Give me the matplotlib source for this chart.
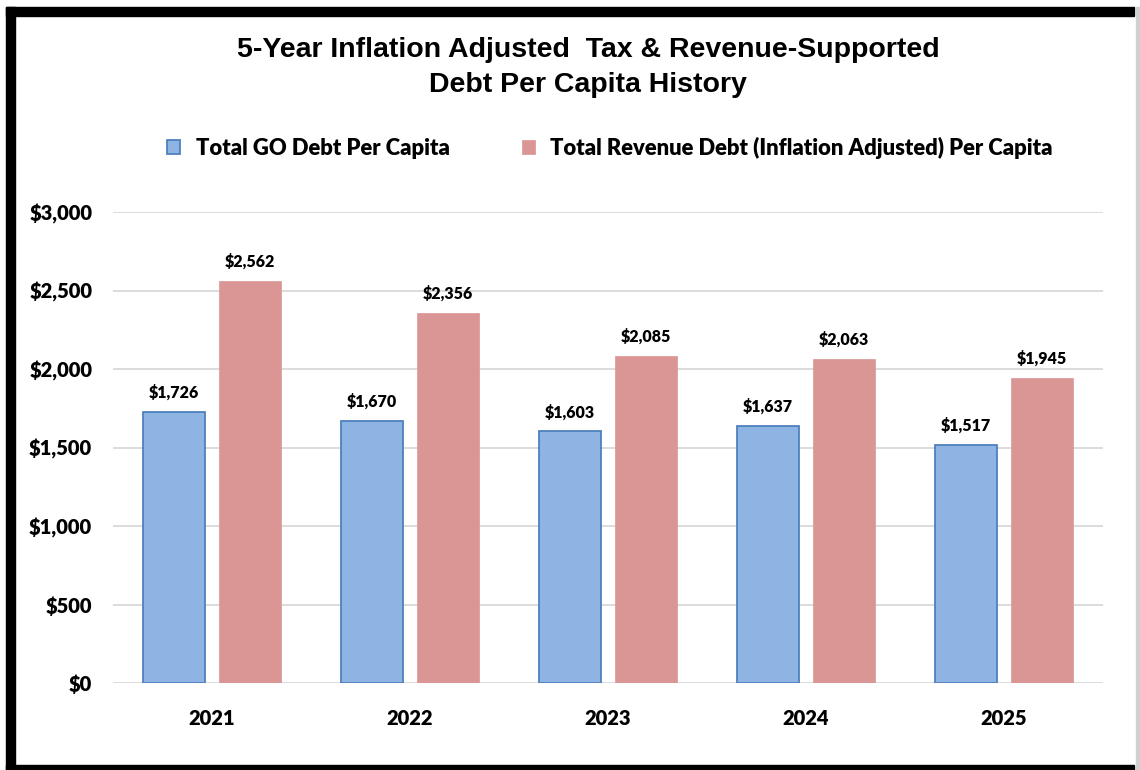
# 5년 인플레이션 조정 부채 1인당 막대 차트

import matplotlib.pyplot as plt
from matplotlib.patches import Rectangle
import numpy as np

years = ["2021", "2022", "2023", "2024", "2025"]
go_debt = [1726, 1670, 1603, 1637, 1517]
rev_debt = [2562, 2356, 2085, 2063, 1945]
y_ticks = [0, 500, 1000, 1500, 2000, 2500, 3000]

label_font = ["Lato", "DejaVu Sans"]
title_font = ["Liberation Sans", "DejaVu Sans"]
lw = "heavy"

W, H = 1140, 770
fig = plt.figure(figsize=(W / 100, H / 100), dpi=100)

# 외곽 테두리 (위/왼쪽/아래 두꺼운 검정, 오른쪽 얇은 회색)
fig.patches.append(Rectangle((6 / W, 1 - 16 / H), (1134 - 6) / W, 9 / H,
                             transform=fig.transFigure, color="black"))
fig.patches.append(Rectangle((6 / W, 0), 9 / W, 1 - 7 / H,
                             transform=fig.transFigure, color="black"))
fig.patches.append(Rectangle((6 / W, 0), (1134 - 6) / W, 5 / H,
                             transform=fig.transFigure, color="black"))
fig.patches.append(Rectangle((1136 / W, 0), 3 / W, 1 - 7 / H,
                             transform=fig.transFigure, color="#d0d0d0"))

ax = fig.add_axes([113 / W, 1 - 683 / H, (1103 - 113) / W, (683 - 212) / H])

x = np.arange(len(years))
bw = 0.313
off = 0.192
blue_bars = ax.bar(x - off, go_debt, bw, color="#8eb4e3", edgecolor="#4f81bd",
                   linewidth=1.3, label="Total GO Debt Per Capita", zorder=3)
red_bars = ax.bar(x + off, rev_debt, bw, color="#d99694", edgecolor="#d99694",
                  linewidth=0.5,
                  label="Total Revenue Debt (Inflation Adjusted) Per Capita",
                  zorder=3)

for bars, vals in [(blue_bars, go_debt), (red_bars, rev_debt)]:
    for b, v in zip(bars, vals):
        ax.annotate(f"${v:,}", (b.get_x() + b.get_width() / 2, v),
                    xytext=(0, 8), textcoords="offset points",
                    ha="center", va="bottom", fontsize=11.5,
                    fontweight=lw, family=label_font)

ax.set_xlim(-0.5, len(years) - 0.5)
ax.set_ylim(0, 3000)
ax.set_yticks(y_ticks)
ax.set_yticklabels([f"${v:,}" for v in y_ticks], fontsize=14.5,
                   fontweight=lw, family=label_font)
ax.set_xticks(x)
ax.set_xticklabels(years, fontsize=14.5, fontweight=lw, family=label_font)
ax.tick_params(axis="both", length=0)
ax.tick_params(axis="y", pad=15)
ax.tick_params(axis="x", pad=19)
ax.grid(axis="y", color="#d9d9d9", linewidth=1.3, zorder=0)
for s in ax.spines.values():
    s.set_visible(False)

fig.text(588 / W, 1 - 50 / H,
         "5-Year Inflation Adjusted  Tax & Revenue-Supported",
         ha="center", va="center", fontsize=20.5, fontweight="bold",
         family=title_font)
fig.text(588 / W, 1 - 85 / H, "Debt Per Capita History",
         ha="center", va="center", fontsize=20.5, fontweight="bold",
         family=title_font)

fig.legend(loc="center", bbox_to_anchor=(610 / W, 1 - 148 / H), ncol=2,
           frameon=False, handlelength=0.6, handleheight=0.6,
           handletextpad=0.7, columnspacing=3.3, borderpad=0,
           prop={"family": label_font, "weight": lw, "size": 15.8})

fig.savefig("out.png", dpi=100, facecolor="white")
